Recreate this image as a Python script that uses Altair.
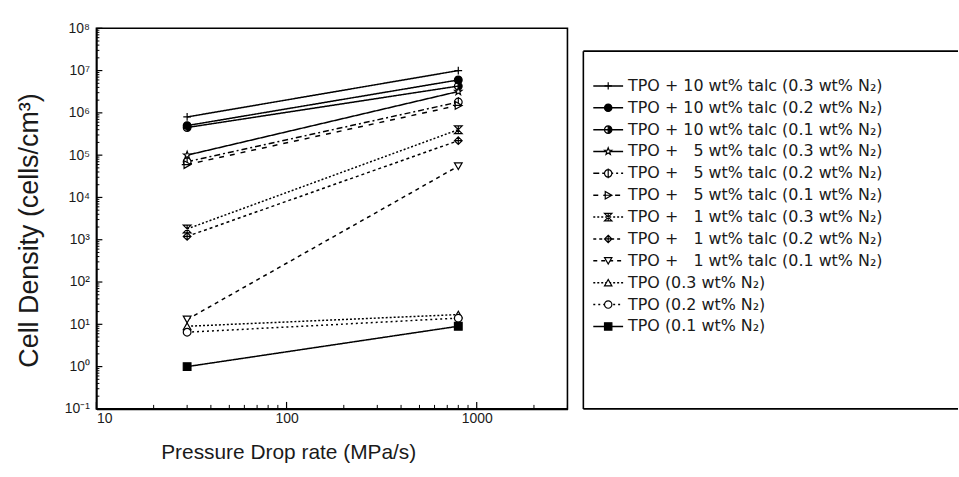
import math
import altair as alt
import pandas as pd

# ---------------- data ----------------
series = [
    "TPO + 10 wt% talc (0.3 wt% N₂)",
    "TPO + 10 wt% talc (0.2 wt% N₂)",
    "TPO + 10 wt% talc (0.1 wt% N₂)",
    "TPO + \u20075 wt% talc (0.3 wt% N₂)",
    "TPO + \u20075 wt% talc (0.2 wt% N₂)",
    "TPO + \u20075 wt% talc (0.1 wt% N₂)",
    "TPO + \u20071 wt% talc (0.3 wt% N₂)",
    "TPO + \u20071 wt% talc (0.2 wt% N₂)",
    "TPO + \u20071 wt% talc (0.1 wt% N₂)",
    "TPO (0.3 wt% N₂)",
    "TPO (0.2 wt% N₂)",
    "TPO (0.1 wt% N₂)",
]
rate_low = 30
rate_high = 800
density_low = [8e5, 5e5, 4.5e5, 1e5, 7e4, 6e4, 1.8e3, 1.2e3, 13, 9, 6.5, 1.0]
density_high = [1e7, 6e6, 4.3e6, 3.2e6, 1.8e6, 1.5e6, 4e5, 2.2e5, 5.5e4, 17, 14, 9]

x_tick_labels = [10, 100, 1000]
x_minor_ticks = [20, 30, 40, 50, 60, 70, 80, 90,
                 200, 300, 400, 500, 600, 700, 800, 900, 2000, 3000]
y_tick_labels = [1e-1, 1e0, 1e1, 1e2, 1e3, 1e4, 1e5, 1e6, 1e7, 1e8]
y_minor_ticks = [m * d for d in y_tick_labels[:-1] for m in range(2, 10)]

# ---------------- styles ----------------
def star_path():
    pts = []
    for k in range(10):
        r = 1.0 if k % 2 == 0 else 0.42
        a = math.radians(-90 + 36 * k)
        pts.append(f"{r*math.cos(a):.3f},{r*math.sin(a):.3f}")
    return "M" + "L".join(pts) + "Z"

shapes = [
    "M-1,0H1M0,-1V1",                                                    # plus
    "circle",                                                            # filled circle
    "M0,-1A1,1 0 1,1 0,1A1,1 0 1,1 0,-1ZM0,-1A1,1 0 0,0 0,1Z",           # half circle
    star_path(),                                                         # star
    "M0,-1A1,1 0 1,1 0,1A1,1 0 1,1 0,-1ZM0,-1.3V1.3",                    # circle + bar
    "M-0.8,-1L1,0L-0.8,1ZM-1.4,0H1",                                     # right triangle + bar
    "M-1,-1H1L-1,1H1ZM0,-1V1",                                           # hourglass
    "M0,-1L1,0L0,1L-1,0ZM-1,0H1M0,-1V1",                                 # diamond cross
    "triangle-down",
    "triangle-up",
    "circle",
    "square",
]
fills = ["white", "black", "black", "white", "white", "white",
         "white", "white", "white", "white", "white", "black"]
dashes = [[1, 0], [1, 0], [1, 0], [1, 0], [6, 3, 2, 3], [5, 6],
          [2, 2], [3, 3], [4, 4], [2, 2], [2, 3], [1, 0]]

FONT = "Liberation Sans"
LEG_FONT = "DejaVu Sans"
INK = "#1a1a1a"
W, H = 474, 383
LEG_W = 377

shape_scale = alt.Scale(domain=series, range=shapes)
fill_scale = alt.Scale(domain=series, range=fills)
dash_scale = alt.Scale(domain=series, range=dashes)

rows = []
for s, lo, hi in zip(series, density_low, density_high):
    rows.append({"series": s, "rate": rate_low, "density": lo})
    rows.append({"series": s, "rate": rate_high, "density": hi})
df = pd.DataFrame(rows)

xs = alt.Scale(type="log", domain=[10, 3000], nice=False)
ys = alt.Scale(type="log", domain=[0.1, 1e8], nice=False)

y_label_expr = ("datum.value < 1 ? '10⁻¹' : '10' + "
                "['⁰','¹','²','³','⁴','⁵','⁶','⁷','⁸'][round(log(datum.value)/LN10)]")

base = alt.Chart(df)
lines = base.mark_line(color="black", strokeWidth=1.5).encode(
    x=alt.X("rate:Q", scale=xs,
            axis=alt.Axis(title="Pressure Drop rate (MPa/s)", values=x_tick_labels,
                          labelExpr="format(datum.value, 'd')", ticks=False,
                          grid=False, labelPadding=3, titlePadding=16,
                          titleX=193, titleAlign="center",
                          labelFontSize=14, titleFontSize=21, labelFont=FONT,
                          titleFont=FONT, titleFontWeight="normal",
                          labelColor=INK, titleColor=INK,
                          domainColor="black", domainWidth=1.6)),
    y=alt.Y("density:Q", scale=ys,
            axis=alt.Axis(title="Cell Density (cells/cm³)", values=y_tick_labels,
                          labelExpr=y_label_expr, ticks=False, grid=False,
                          labelPadding=7, titlePadding=21,
                          titleY=203, titleAlign="center",
                          labelFontSize=14, titleFontSize=27, labelFont=FONT,
                          titleFont=FONT, titleFontWeight="normal",
                          labelColor=INK, titleColor=INK,
                          domainColor="black", domainWidth=1.6)),
    detail="series:N",
    strokeDash=alt.StrokeDash("series:N", scale=dash_scale, legend=None),
)
points = base.mark_point(stroke="black", strokeWidth=1.2, size=60, opacity=1).encode(
    x="rate:Q", y="density:Q",
    shape=alt.Shape("series:N", scale=shape_scale, legend=None),
    fill=alt.Fill("series:N", scale=fill_scale, legend=None),
)

xt_minor = alt.Chart(pd.DataFrame({"t": x_minor_ticks})).mark_rule(
    color="black", strokeWidth=1).encode(x="t:Q", y=alt.value(H), y2=alt.value(H - 4))
xt_major = alt.Chart(pd.DataFrame({"t": x_tick_labels})).mark_rule(
    color="black", strokeWidth=1.2).encode(x="t:Q", y=alt.value(H), y2=alt.value(H - 7))
yt_minor = alt.Chart(pd.DataFrame({"t": y_minor_ticks})).mark_rule(
    color="black", strokeWidth=1).encode(y="t:Q", x=alt.value(0), x2=alt.value(3))
yt_major = alt.Chart(pd.DataFrame({"t": y_tick_labels})).mark_rule(
    color="black", strokeWidth=1.2).encode(y="t:Q", x=alt.value(0), x2=alt.value(6))

main = alt.layer(lines, points, xt_minor, xt_major, yt_minor, yt_major).properties(
    width=W, height=H)

# ---------------- legend panel ----------------
leg_df = pd.DataFrame({"series": series, "row": list(range(len(series)))})
ly = alt.Scale(domain=[-58 / 22, (H - 58) / 22], reverse=True, nice=False, zero=False)
lbase = alt.Chart(leg_df)
leg_lines = lbase.mark_rule(color="black", strokeWidth=1.5).encode(
    y=alt.Y("row:Q", scale=ly, axis=None),
    x=alt.value(10), x2=alt.value(40),
    strokeDash=alt.StrokeDash("series:N", scale=dash_scale, legend=None),
)
leg_pts = lbase.mark_point(stroke="black", strokeWidth=1.2, size=55, opacity=1).encode(
    y=alt.Y("row:Q", scale=ly, axis=None),
    x=alt.value(25),
    shape=alt.Shape("series:N", scale=shape_scale, legend=None),
    fill=alt.Fill("series:N", scale=fill_scale, legend=None),
)
leg_txt = lbase.mark_text(align="left", baseline="middle", font=LEG_FONT, fontSize=16,
                          color=INK).encode(
    y=alt.Y("row:Q", scale=ly, axis=None),
    x=alt.value(45),
    text="series:N",
)
one = alt.Chart(pd.DataFrame({"a": [0]}))
frame_top = one.mark_rule(color="black", strokeWidth=1.6).encode(
    x=alt.value(0), x2=alt.value(LEG_W), y=alt.value(23))
frame_bot = one.mark_rule(color="black", strokeWidth=1.6).encode(
    x=alt.value(0), x2=alt.value(LEG_W), y=alt.value(H))
frame_left = one.mark_rule(color="black", strokeWidth=1.6).encode(
    x=alt.value(0), y=alt.value(23), y2=alt.value(H))

legend = alt.layer(leg_lines, leg_pts, leg_txt, frame_top, frame_bot, frame_left).properties(
    width=LEG_W, height=H, view=alt.ViewBackground(stroke=None))

chart = alt.hconcat(main, legend, spacing=13).properties(
    padding={"left": 14, "top": 19, "right": 0, "bottom": 0},
    background="white",
).configure_view(stroke="black", strokeWidth=1.6)

chart.save("out.html", embed_options={"renderer": "svg", "actions": False})
